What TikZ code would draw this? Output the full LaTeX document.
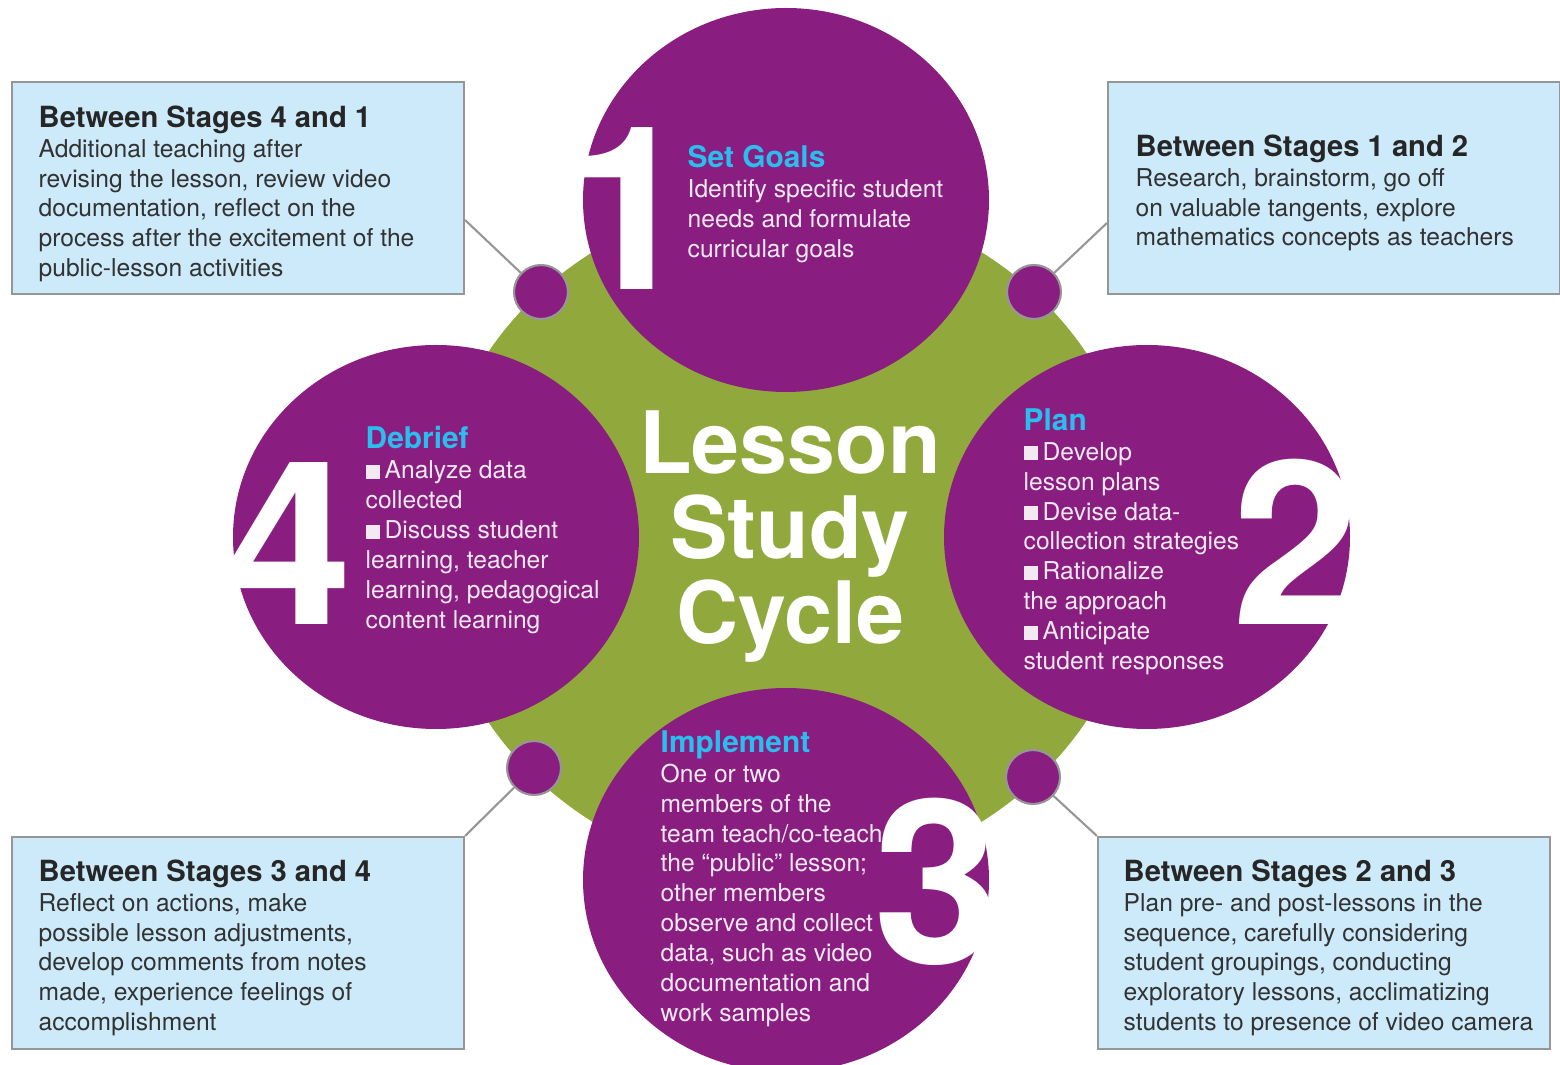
\documentclass[tikz,border=0pt]{standalone}
\usepackage{fontspec}
\setmainfont{TeX Gyre Heros}
\usepackage{tikz}
\usetikzlibrary{positioning,shapes}

\definecolor{lsviolet}{RGB}{137,30,128}
\definecolor{lsgreen}{RGB}{145,168,61}
\definecolor{lscyan}{RGB}{41,190,238}
\definecolor{lsbox}{RGB}{204,234,250}
\definecolor{lsgray}{RGB}{150,150,150}
\definecolor{lsink}{RGB}{50,50,50}

\newcommand{\sq}{\rule{4pt}{4pt}\hspace{1.4pt}}
\newcommand{\stagehead}[1]{{\color{lscyan}\fontsize{8.5}{8.5}\selectfont\bfseries #1}}
\newcommand{\notehead}[1]{{\color{black!85}\fontsize{8.3}{8.5}\selectfont\bfseries #1}}

\begin{document}
\begin{tikzpicture}[x=0.1mm,y=-0.1mm]
	\tikzset{stage/.style={ellipse,fill=lsviolet,inner sep=0pt,minimum width=4.06cm,minimum height=3.84cm}}
	\tikzset{dot/.style={circle,fill=lsviolet,draw=lsgray,line width=0.6pt,inner sep=0pt,minimum size=5.4mm}}
	\tikzstyle{notebox}=[draw=lsgray,line width=0.6pt,fill=lsbox,inner sep=0pt,minimum width=4.52cm,minimum height=2.12cm]
	\tikzstyle{bigno}=[text=white,font=\fontsize{65}{65}\selectfont\bfseries,inner sep=0pt,anchor=base]
	\tikzstyle{stagetext}=[text=white!90!lsviolet,font=\fontsize{7}{8.5}\selectfont,align=left,anchor=north west,inner sep=0pt]
	\tikzstyle{notetext}=[text=lsink,font=\fontsize{7}{8.5}\selectfont,align=left,anchor=north west,inner sep=0pt]
	\tikzstyle{link}=[draw=lsgray,line width=0.6pt]

	\useasboundingbox (0,0) rectangle (1560,1065);
	\clip (0,0) rectangle (1560,1065);

	%% green disc and the four stages
	\node[ellipse,fill=lsgreen,inner sep=0pt,minimum width=7.12cm,minimum height=6.8cm] (cycle) at (787,537) {};
	\node[stage] (goals) at (786,200) {};
	\node[stage] (plan) at (1147,537) {};
	\node[stage] (impl) at (786,880) {};
	\node[stage] (debrief) at (436,537) {};

	\node[text=white,font=\fontsize{24.5}{24.2}\selectfont\bfseries,align=center,inner sep=0pt,anchor=north] (title) at (790,410) {Lesson\\Study\\Cycle};

	%% stage numbers
	\node[bigno] (n1) at (630,290) {1};
	\node[bigno] (n2) at (1296,625) {2};
	\node[bigno] (n3) at (937,963) {3};
	\node[bigno] (n4) at (289,625) {4};

	\node[stagetext] (goalstext) at (687,145) {\stagehead{Set Goals}\\
		Identify specific student\\needs and formulate\\curricular goals};
	\node[stagetext] (plantext) at (1023,408) {\stagehead{Plan}\\
		\sq Develop\\lesson plans\\\sq Devise data-\\collection strategies\\
		\sq Rationalize\\the approach\\\sq Anticipate\\student responses};
	\node[stagetext] (impltext) at (660,730) {\stagehead{Implement}\\
		One or two\\members of the\\team teach/co-teach\\the “public” lesson;\\
		other members\\observe and collect\\data, such as video\\documentation and\\work samples};
	\node[stagetext] (debrieftext) at (365,426) {\stagehead{Debrief}\\
		\sq Analyze data\\collected\\\sq Discuss student\\learning, teacher\\
		learning, pedagogical\\content learning};

	%% between stages
	\node[dot] (d12) at (1034,292) {};
	\node[dot] (d23) at (1033,777) {};
	\node[dot] (d34) at (534,768) {};
	\node[dot] (d41) at (541,292) {};

	\node[notebox] (box41) at (238,188) {};
	\node[notebox] (box12) at (1334,188) {};
	\node[notebox] (box34) at (238,943) {};
	\node[notebox] (box23) at (1324,943) {};

	\node[notetext] (box41text) at (38,105) {\notehead{Between Stages 4 and 1}\\
		Additional teaching after\\revising the lesson, review video\\documentation, reflect on the\\
		process after the excitement of the\\public-lesson activities};
	\node[notetext] (box12text) at (1135,134) {\notehead{Between Stages 1 and 2}\\
		Research, brainstorm, go off\\on valuable tangents, explore\\mathematics concepts as teachers};
	\node[notetext] (box34text) at (38,859) {\notehead{Between Stages 3 and 4}\\
		Reflect on actions, make\\possible lesson adjustments,\\develop comments from notes\\
		made, experience feelings of\\accomplishment};
	\node[notetext] (box23text) at (1123,859) {\notehead{Between Stages 2 and 3}\\
		Plan pre- and post-lessons in the\\sequence, carefully considering\\student groupings, conducting\\
		exploratory lessons, acclimatizing\\students to presence of video camera};

	\path[link]
		([yshift=-3.2mm]box41.east) edge (d41)
		([yshift=-3.5mm]box12.west) edge (d12)
		(box34.north east) edge (d34)
		(box23.north west) edge (d23);
\end{tikzpicture}
\end{document}
